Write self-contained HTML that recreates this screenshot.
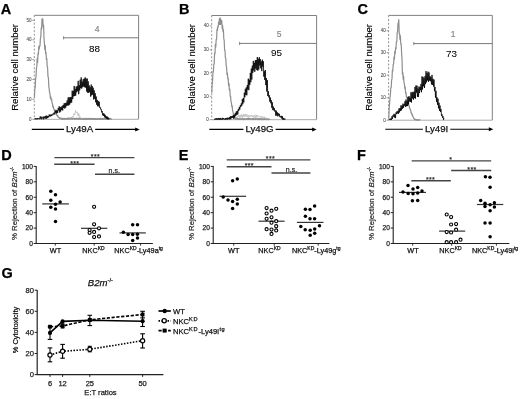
<!DOCTYPE html><html><head><meta charset="utf-8"><style>html,body{margin:0;padding:0;background:#fff;}svg{display:block;filter:blur(0.3px);}text{font-family:"Liberation Sans", sans-serif;}</style></head><body>
<svg width="520" height="399" viewBox="0 0 520 399">
<rect width="520" height="399" fill="#fff"/>
<text x="0.80" y="13.80" font-size="14.5" text-anchor="start" font-weight="bold" font-style="normal" fill="#000" stroke="#000" stroke-width="0.25" >A</text>
<text x="0" y="0" font-size="9.6" text-anchor="middle" fill="#000" stroke="#000" stroke-width="0.15" transform="translate(17.6,67.4) rotate(-90)">Relative cell number</text>
<line x1="34.30" y1="15.30" x2="138.60" y2="15.30" stroke="#808080" stroke-width="1" />
<line x1="138.60" y1="15.30" x2="138.60" y2="119.30" stroke="#808080" stroke-width="1" />
<line x1="34.30" y1="119.30" x2="138.60" y2="119.30" stroke="#aaa" stroke-width="1" />
<line x1="34.30" y1="15.30" x2="34.30" y2="119.30" stroke="#888" stroke-width="0.9" stroke-dasharray="2,1.7"/>
<line x1="32.30" y1="20.30" x2="34.30" y2="20.30" stroke="#888" stroke-width="0.8" />
<text x="31.40" y="21.90" font-size="4.5" text-anchor="end" font-weight="normal" font-style="normal" fill="#555" stroke="#555" stroke-width="0.1" >50</text>
<line x1="32.30" y1="39.80" x2="34.30" y2="39.80" stroke="#888" stroke-width="0.8" />
<text x="31.40" y="41.40" font-size="4.5" text-anchor="end" font-weight="normal" font-style="normal" fill="#555" stroke="#555" stroke-width="0.1" >40</text>
<line x1="32.30" y1="59.60" x2="34.30" y2="59.60" stroke="#888" stroke-width="0.8" />
<text x="31.40" y="61.20" font-size="4.5" text-anchor="end" font-weight="normal" font-style="normal" fill="#555" stroke="#555" stroke-width="0.1" >30</text>
<line x1="32.30" y1="79.50" x2="34.30" y2="79.50" stroke="#888" stroke-width="0.8" />
<text x="31.40" y="81.10" font-size="4.5" text-anchor="end" font-weight="normal" font-style="normal" fill="#555" stroke="#555" stroke-width="0.1" >20</text>
<line x1="32.30" y1="99.30" x2="34.30" y2="99.30" stroke="#888" stroke-width="0.8" />
<text x="31.40" y="100.90" font-size="4.5" text-anchor="end" font-weight="normal" font-style="normal" fill="#555" stroke="#555" stroke-width="0.1" >10</text>
<line x1="32.30" y1="119.30" x2="34.30" y2="119.30" stroke="#888" stroke-width="0.8" />
<text x="31.40" y="120.90" font-size="4.5" text-anchor="end" font-weight="normal" font-style="normal" fill="#555" stroke="#555" stroke-width="0.1" >0</text>
<polyline points="34.40,97.23 34.80,89.20 35.20,87.72 35.60,78.92 36.00,76.88 36.40,68.34 36.80,66.64 37.20,58.18 37.60,62.68 38.00,53.44 38.40,54.59 38.80,46.41 39.20,49.06 39.60,45.53 40.00,45.94 40.40,38.23 40.80,37.38 41.20,28.05 41.60,29.30 42.00,18.88 42.40,21.60 42.80,18.89 43.20,27.46 43.60,25.07 44.00,37.75 44.40,43.04 44.80,49.44 45.20,45.62 45.60,53.38 46.00,52.54 46.40,59.45 46.80,58.66 47.20,66.52 47.60,67.77 48.00,76.98 48.40,77.49 48.80,86.17 49.20,89.29 49.60,92.81 50.00,93.36 50.40,98.08 50.80,96.77 51.20,99.90 51.60,99.04 52.00,102.42 52.40,103.46 52.80,106.86 53.20,106.09 53.60,108.69 54.00,108.83 54.40,110.72 54.80,109.89 55.20,112.41 55.60,112.13 56.00,114.07 56.40,113.58 56.80,115.33 57.20,115.11 57.60,116.72 58.00,116.07 58.40,117.30 58.80,117.28 59.20,118.01 59.60,117.55 60.00,118.31 60.40,118.13 60.80,118.74 61.20,118.05 61.60,119.05 62.00,118.53 62.40,119.13 62.80,118.47 63.20,119.04 63.60,118.41 64.00,119.22 64.40,118.27 64.80,118.94 65.20,118.61 65.60,119.10 66.00,118.59 66.40,118.99 66.80,118.40 67.20,118.75 67.60,118.19 68.00,119.06 68.40,118.14 68.80,118.87 69.20,118.09 69.60,118.90 70.00,118.11 70.40,119.00 70.80,118.23 71.20,118.74 71.60,118.08 72.00,119.06 72.40,118.19 72.80,118.95 73.20,118.53 73.60,118.74 74.00,118.34 74.40,119.10 74.80,118.30 75.20,119.04 75.60,118.46 76.00,118.90 76.40,118.22 76.80,119.04 77.20,118.49 77.60,118.93 78.00,118.30 78.40,119.26 78.80,118.41 79.20,118.93 79.60,118.32 80.00,119.22 80.40,118.58 80.80,119.12 81.20,118.62 81.60,119.20 82.00,118.58 82.40,119.30 82.80,118.65 83.20,119.30 83.60,118.42 84.00,119.08 84.40,118.77 84.80,119.30 85.20,118.39 85.60,119.11 86.00,118.48 86.40,119.25 86.80,118.42 87.20,119.29 87.60,118.57 88.00,118.96 88.40,118.48 88.80,119.12 89.20,118.49 89.60,119.28 90.00,118.63 90.40,119.30 90.80,118.42 91.20,119.07 91.60,118.55 92.00,119.20 92.40,118.46 92.80,119.30 93.20,118.56 93.60,119.30 94.00,118.57 94.40,119.15 94.80,118.45 95.20,119.30 95.60,118.73 96.00,119.30 96.40,118.86 96.80,119.30 97.20,118.48 97.60,119.30 98.00,118.54 98.40,119.24 98.80,118.84 99.20,119.30 99.60,118.54 100.00,119.30 100.40,118.20 100.80,119.20 101.20,118.78 101.60,119.30 102.00,118.55 102.40,119.25 102.80,118.55 103.20,119.20 103.60,118.51 104.00,119.30 104.40,118.68 104.80,119.30 105.20,118.51 105.60,119.29 106.00,118.66 106.40,119.30 106.80,118.67 107.20,119.30 107.60,118.79 108.00,119.15 108.40,118.56 108.80,119.30 109.20,118.83 109.60,119.30 110.00,118.30 110.40,119.18 110.80,118.60 111.20,119.26 111.60,118.87" fill="none" stroke="#8e8e8e" stroke-width="1.2" stroke-linejoin="round" opacity="1"/>
<polyline points="70.00,119.29 70.80,117.74 71.60,118.01 72.40,116.23 73.20,117.27 74.00,113.46 74.80,114.92 75.60,110.46 76.40,112.90 77.20,112.01 78.00,116.08 78.80,113.46 79.60,117.84 80.40,116.78 81.20,118.88 82.00,118.53" fill="none" stroke="#aaa" stroke-width="0.6" stroke-linejoin="round" opacity="1"/>
<polyline points="34.70,119.30 35.20,118.17 35.70,119.28 36.20,118.50 36.70,119.30 37.20,118.03 37.70,119.28 38.20,118.37 38.70,119.00 39.20,118.33 39.70,119.24 40.20,116.38 40.70,118.64 41.20,116.71 41.70,119.30 42.20,117.56 42.70,118.27 43.20,116.53 43.70,119.30 44.20,116.90 44.70,118.22 45.20,115.99 45.70,118.52 46.20,115.56 46.70,118.63 47.20,115.86 47.70,118.02 48.20,115.96 48.70,117.26 49.20,114.52 49.70,116.33 50.20,114.76 50.70,116.45 51.20,114.44 51.70,115.83 52.20,114.40 52.70,115.21 53.20,113.36 53.70,114.40 54.20,112.54 54.70,114.41 55.20,110.68 55.70,112.67 56.20,109.91 56.70,113.43 57.20,110.36 57.70,112.96 58.20,108.16 58.70,110.36 59.20,106.30 59.70,112.49 60.20,107.29 60.70,111.54 61.20,106.81 61.70,109.93 62.20,105.89 62.70,110.48 63.20,104.95 63.70,107.89 64.20,103.30 64.70,108.54 65.20,103.08 65.70,107.67 66.20,102.70 66.70,105.88 67.20,100.33 67.70,105.50 68.20,97.39 68.70,105.42 69.20,97.44 69.70,104.57 70.20,96.96 70.70,103.08 71.20,97.21 71.70,102.44 72.20,90.68 72.70,99.14 73.20,90.96 73.70,96.44 74.20,85.94 74.70,95.93 75.20,88.84 75.70,95.64 76.20,86.60 76.70,92.29 77.20,86.10 77.70,91.19 78.20,80.86 78.70,94.16 79.20,85.10 79.70,90.35 80.20,79.71 80.70,88.25 81.20,77.46 81.70,88.55 82.20,81.71 82.70,87.13 83.20,79.31 83.70,86.49 84.20,78.61 84.70,87.29 85.20,77.42 85.70,87.63 86.20,78.70 86.70,91.53 87.20,78.56 87.70,92.77 88.20,81.34 88.70,92.79 89.20,85.48 89.70,92.16 90.20,87.18 90.70,96.62 91.20,84.55 91.70,95.28 92.20,86.07 92.70,94.64 93.20,87.74 93.70,99.43 94.20,90.37 94.70,98.79 95.20,93.31 95.70,102.25 96.20,96.53 96.70,104.74 97.20,99.87 97.70,106.32 98.20,100.94 98.70,106.25 99.20,101.72 99.70,107.88 100.20,107.18 100.70,109.31 101.20,109.01 101.70,112.36 102.20,111.14 102.70,115.29 103.20,113.20 103.70,115.94 104.20,113.75 104.70,117.42 105.20,114.84 105.70,118.04 106.20,116.23 106.70,118.87 107.20,116.55 107.70,119.30 108.20,117.43 108.70,119.30 109.20,118.28" fill="none" stroke="#000" stroke-width="0.8" stroke-linejoin="round" opacity="1"/>
<line x1="63.60" y1="37.80" x2="138.60" y2="37.80" stroke="#7a7a7a" stroke-width="1" />
<line x1="63.60" y1="36.20" x2="63.60" y2="39.40" stroke="#7a7a7a" stroke-width="0.9" />
<text x="97.00" y="32.20" font-size="8.5" text-anchor="middle" font-weight="normal" font-style="normal" fill="#8a8a8a" stroke="#8a8a8a" stroke-width="0.2" >4</text>
<text x="94.40" y="52.20" font-size="9.9" text-anchor="middle" font-weight="normal" font-style="normal" fill="#000" stroke="#000" stroke-width="0.05" >88</text>
<line x1="31.80" y1="129.40" x2="136.70" y2="129.40" stroke="#000" stroke-width="1.1" />
<polygon points="135.2,127.4 139.7,129.4 135.2,131.4" fill="#000"/>
<rect x="64.03" y="124.4" width="31.14" height="10" fill="#fff"/>
<text x="79.60" y="131.90" font-size="9.7" text-anchor="middle" font-weight="normal" font-style="normal" fill="#111" stroke="#111" stroke-width="0.25" >Ly49A</text>
<text x="179.00" y="13.80" font-size="14.5" text-anchor="start" font-weight="bold" font-style="normal" fill="#000" stroke="#000" stroke-width="0.25" >B</text>
<text x="0" y="0" font-size="9.6" text-anchor="middle" fill="#000" stroke="#000" stroke-width="0.15" transform="translate(195.1,67.4) rotate(-90)">Relative cell number</text>
<line x1="211.70" y1="15.50" x2="316.60" y2="15.50" stroke="#808080" stroke-width="1" />
<line x1="316.60" y1="15.50" x2="316.60" y2="119.70" stroke="#808080" stroke-width="1" />
<line x1="211.70" y1="119.70" x2="316.60" y2="119.70" stroke="#aaa" stroke-width="1" />
<line x1="211.70" y1="15.50" x2="211.70" y2="119.70" stroke="#888" stroke-width="0.9" stroke-dasharray="2,1.7"/>
<line x1="209.70" y1="25.80" x2="211.70" y2="25.80" stroke="#888" stroke-width="0.8" />
<text x="208.80" y="27.40" font-size="4.5" text-anchor="end" font-weight="normal" font-style="normal" fill="#555" stroke="#555" stroke-width="0.1" >40</text>
<line x1="209.70" y1="49.80" x2="211.70" y2="49.80" stroke="#888" stroke-width="0.8" />
<text x="208.80" y="51.40" font-size="4.5" text-anchor="end" font-weight="normal" font-style="normal" fill="#555" stroke="#555" stroke-width="0.1" >30</text>
<line x1="209.70" y1="72.90" x2="211.70" y2="72.90" stroke="#888" stroke-width="0.8" />
<text x="208.80" y="74.50" font-size="4.5" text-anchor="end" font-weight="normal" font-style="normal" fill="#555" stroke="#555" stroke-width="0.1" >20</text>
<line x1="209.70" y1="96.30" x2="211.70" y2="96.30" stroke="#888" stroke-width="0.8" />
<text x="208.80" y="97.90" font-size="4.5" text-anchor="end" font-weight="normal" font-style="normal" fill="#555" stroke="#555" stroke-width="0.1" >10</text>
<line x1="209.70" y1="119.70" x2="211.70" y2="119.70" stroke="#888" stroke-width="0.8" />
<text x="208.80" y="121.30" font-size="4.5" text-anchor="end" font-weight="normal" font-style="normal" fill="#555" stroke="#555" stroke-width="0.1" >0</text>
<polyline points="211.80,92.76 212.20,84.13 212.60,80.20 213.00,71.51 213.40,71.81 213.80,64.16 214.20,63.89 214.60,52.96 215.00,53.82 215.40,44.05 215.80,46.91 216.20,39.31 216.60,39.43 217.00,29.21 217.40,30.72 217.80,26.25 218.20,27.24 218.60,21.98 219.00,24.38 219.40,18.58 219.80,24.31 220.20,17.93 220.60,24.44 221.00,19.65 221.40,23.72 221.80,20.79 222.20,28.63 222.60,25.28 223.00,31.61 223.40,29.48 223.80,38.65 224.20,40.47 224.60,50.15 225.00,50.31 225.40,58.02 225.80,58.43 226.20,65.93 226.60,67.41 227.00,74.80 227.40,73.04 227.80,78.80 228.20,78.03 228.60,85.70 229.00,83.40 229.40,90.13 229.80,88.96 230.20,96.32 230.60,96.10 231.00,101.77 231.40,102.48 231.80,106.63 232.20,105.70 232.60,110.74 233.00,111.91 233.40,114.45 233.80,115.03 234.20,117.47 234.60,117.40 235.00,118.53 235.40,118.35 235.80,119.18 236.20,118.30 236.60,119.16 237.00,118.39 237.40,119.27 237.80,118.20 238.20,119.38 238.60,118.89 239.00,119.39 239.40,118.63 239.80,119.31 240.20,118.51 240.60,119.24 241.00,118.95 241.40,119.19 241.80,118.63 242.20,119.39 242.60,118.70 243.00,119.21 243.40,118.75 243.80,119.61 244.20,118.60 244.60,119.48 245.00,118.95 245.40,119.12 245.80,118.83 246.20,119.22 246.60,118.60 247.00,119.28 247.40,118.48 247.80,119.33 248.20,118.14 248.60,119.37 249.00,118.55 249.40,119.24 249.80,118.65 250.20,119.11 250.60,118.47 251.00,119.26 251.40,118.79 251.80,119.13 252.20,118.57 252.60,119.65 253.00,118.63 253.40,119.38 253.80,118.75 254.20,119.14 254.60,118.84 255.00,119.53 255.40,118.74 255.80,119.35 256.20,118.67 256.60,119.20 257.00,118.75 257.40,119.58 257.80,118.70 258.20,119.50 258.60,118.68 259.00,119.31 259.40,118.82 259.80,119.58 260.20,118.26 260.60,119.37 261.00,118.84 261.40,119.70 261.80,118.89 262.20,119.57 262.60,119.00 263.00,119.56 263.40,118.89 263.80,119.56 264.20,118.64 264.60,119.38 265.00,119.00 265.40,119.35 265.80,118.94 266.20,119.69 266.60,118.88 267.00,119.41 267.40,118.91 267.80,119.37 268.20,119.10 268.60,119.70 269.00,119.12 269.40,119.29 269.80,118.78" fill="none" stroke="#8e8e8e" stroke-width="1.2" stroke-linejoin="round" opacity="1"/>
<polyline points="233.00,119.70 233.80,117.80 234.60,119.31 235.40,117.47 236.20,118.16 237.00,116.73 237.80,117.25 238.60,115.33 239.40,117.53 240.20,114.79 241.00,117.63 241.80,114.45 242.60,117.69 243.40,113.97 244.20,116.94 245.00,113.99 245.80,116.73 246.60,114.11 247.40,117.09 248.20,115.06 249.00,117.52 249.80,115.15 250.60,116.37 251.40,114.90 252.20,117.07 253.00,115.48 253.80,117.78 254.60,115.13 255.40,117.81 256.20,114.78 257.00,117.54 257.80,115.27 258.60,117.12 259.40,116.42 260.20,117.12 261.00,115.90 261.80,118.51 262.60,116.56 263.40,118.72 264.20,116.60 265.00,118.65 265.80,117.58 266.60,119.45 267.40,118.16 268.20,119.49 269.00,118.60 269.80,119.57" fill="none" stroke="#aaa" stroke-width="0.6" stroke-linejoin="round" opacity="1"/>
<polyline points="213.80,119.70 214.30,119.30 214.80,119.70 215.30,118.47 215.80,119.70 216.30,118.13 216.80,119.70 217.30,118.37 217.80,119.70 218.30,118.13 218.80,119.70 219.30,118.11 219.80,119.70 220.30,117.94 220.80,119.70 221.30,118.67 221.80,119.70 222.30,117.82 222.80,119.54 223.30,118.02 223.80,119.30 224.30,118.77 224.80,119.70 225.30,118.10 225.80,119.70 226.30,118.01 226.80,119.36 227.30,117.64 227.80,119.69 228.30,118.03 228.80,119.03 229.30,117.22 229.80,119.52 230.30,116.31 230.80,119.17 231.30,116.22 231.80,118.03 232.30,115.98 232.80,117.98 233.30,115.07 233.80,118.64 234.30,114.65 234.80,117.42 235.30,112.93 235.80,115.95 236.30,111.49 236.80,114.89 237.30,110.78 237.80,114.42 238.30,109.10 238.80,110.77 239.30,106.97 239.80,109.56 240.30,105.30 240.80,107.09 241.30,103.36 241.80,105.95 242.30,99.14 242.80,104.19 243.30,98.05 243.80,102.38 244.30,92.79 244.80,97.30 245.30,88.84 245.80,95.05 246.30,87.39 246.80,95.31 247.30,84.99 247.80,89.60 248.30,78.65 248.80,90.15 249.30,79.79 249.80,84.93 250.30,72.89 250.80,82.28 251.30,68.53 251.80,79.53 252.30,65.71 252.80,72.85 253.30,60.90 253.80,70.45 254.30,62.84 254.80,71.77 255.30,60.15 255.80,68.54 256.30,60.05 256.80,70.04 257.30,57.03 257.80,70.67 258.30,58.81 258.80,69.43 259.30,57.22 259.80,65.48 260.30,59.16 260.80,68.31 261.30,61.37 261.80,71.12 262.30,59.65 262.80,66.63 263.30,61.24 263.80,76.61 264.30,71.21 264.80,80.04 265.30,70.01 265.80,85.06 266.30,78.03 266.80,91.47 267.30,80.10 267.80,96.02 268.30,91.18 268.80,97.32 269.30,95.25 269.80,101.58 270.30,97.48 270.80,103.26 271.30,100.26 271.80,107.79 272.30,102.32 272.80,110.05 273.30,106.55 273.80,110.43 274.30,108.16 274.80,111.46 275.30,110.30 275.80,115.71 276.30,110.71 276.80,115.60 277.30,112.34 277.80,116.37 278.30,113.28 278.80,115.53 279.30,113.80 279.80,117.08 280.30,116.12 280.80,117.48 281.30,115.82 281.80,118.68 282.30,116.10 282.80,119.70 283.30,117.93 283.80,119.70 284.30,118.46 284.80,119.70 285.30,118.73" fill="none" stroke="#000" stroke-width="0.8" stroke-linejoin="round" opacity="1"/>
<line x1="239.60" y1="43.40" x2="316.60" y2="43.40" stroke="#7a7a7a" stroke-width="1" />
<line x1="239.60" y1="41.80" x2="239.60" y2="45.00" stroke="#7a7a7a" stroke-width="0.9" />
<text x="279.20" y="36.50" font-size="8.5" text-anchor="middle" font-weight="normal" font-style="normal" fill="#8a8a8a" stroke="#8a8a8a" stroke-width="0.2" >5</text>
<text x="276.50" y="56.10" font-size="9.9" text-anchor="middle" font-weight="normal" font-style="normal" fill="#000" stroke="#000" stroke-width="0.05" >95</text>
<line x1="209.30" y1="129.40" x2="313.60" y2="129.40" stroke="#000" stroke-width="1.1" />
<polygon points="312.1,127.4 316.6,129.4 312.1,131.4" fill="#000"/>
<rect x="243.39" y="124.4" width="32.22" height="10" fill="#fff"/>
<text x="259.50" y="131.90" font-size="9.7" text-anchor="middle" font-weight="normal" font-style="normal" fill="#111" stroke="#111" stroke-width="0.25" >Ly49G</text>
<text x="357.40" y="13.80" font-size="14.5" text-anchor="start" font-weight="bold" font-style="normal" fill="#000" stroke="#000" stroke-width="0.25" >C</text>
<text x="0" y="0" font-size="9.6" text-anchor="middle" fill="#000" stroke="#000" stroke-width="0.15" transform="translate(372.1,67.4) rotate(-90)">Relative cell number</text>
<line x1="388.60" y1="15.40" x2="492.30" y2="15.40" stroke="#808080" stroke-width="1" />
<line x1="492.30" y1="15.40" x2="492.30" y2="120.20" stroke="#808080" stroke-width="1" />
<line x1="388.60" y1="120.20" x2="492.30" y2="120.20" stroke="#aaa" stroke-width="1" />
<line x1="388.60" y1="15.40" x2="388.60" y2="120.20" stroke="#888" stroke-width="0.9" stroke-dasharray="2,1.7"/>
<line x1="386.60" y1="30.80" x2="388.60" y2="30.80" stroke="#888" stroke-width="0.8" />
<text x="385.70" y="32.40" font-size="4.5" text-anchor="end" font-weight="normal" font-style="normal" fill="#555" stroke="#555" stroke-width="0.1" >40</text>
<line x1="386.60" y1="52.60" x2="388.60" y2="52.60" stroke="#888" stroke-width="0.8" />
<text x="385.70" y="54.20" font-size="4.5" text-anchor="end" font-weight="normal" font-style="normal" fill="#555" stroke="#555" stroke-width="0.1" >30</text>
<line x1="386.60" y1="75.10" x2="388.60" y2="75.10" stroke="#888" stroke-width="0.8" />
<text x="385.70" y="76.70" font-size="4.5" text-anchor="end" font-weight="normal" font-style="normal" fill="#555" stroke="#555" stroke-width="0.1" >20</text>
<line x1="386.60" y1="97.80" x2="388.60" y2="97.80" stroke="#888" stroke-width="0.8" />
<text x="385.70" y="99.40" font-size="4.5" text-anchor="end" font-weight="normal" font-style="normal" fill="#555" stroke="#555" stroke-width="0.1" >10</text>
<line x1="386.60" y1="120.20" x2="388.60" y2="120.20" stroke="#888" stroke-width="0.8" />
<text x="385.70" y="121.80" font-size="4.5" text-anchor="end" font-weight="normal" font-style="normal" fill="#555" stroke="#555" stroke-width="0.1" >0</text>
<polyline points="388.80,119.12 389.20,107.91 389.60,103.17 390.00,97.60 390.40,94.74 390.80,87.72 391.20,87.47 391.60,80.28 392.00,78.63 392.40,70.11 392.80,71.08 393.20,64.44 393.60,63.89 394.00,56.75 394.40,59.19 394.80,51.34 395.20,53.70 395.60,47.72 396.00,49.03 396.40,41.75 396.80,41.84 397.20,32.43 397.60,31.32 398.00,23.06 398.40,23.25 398.80,19.69 399.20,33.61 399.60,33.13 400.00,39.76 400.40,35.76 400.80,44.16 401.20,43.97 401.60,52.72 402.00,58.35 402.40,74.28 402.80,72.29 403.20,79.12 403.60,75.99 404.00,82.77 404.40,83.84 404.80,88.45 405.20,87.14 405.60,93.28 406.00,92.54 406.40,96.90 406.80,96.49 407.20,99.32 407.60,98.93 408.00,103.37 408.40,101.95 408.80,106.01 409.20,105.46 409.60,108.41 410.00,108.42 410.40,110.12 410.80,110.64 411.20,113.12 411.60,112.98 412.00,115.05 412.40,114.53 412.80,116.65 413.20,116.62 413.60,118.18 414.00,118.23 414.40,119.38 414.80,118.88 415.20,119.75 415.60,119.57 416.00,119.96 416.40,119.64 416.80,120.20 417.20,119.76 417.60,120.20 418.00,119.90 418.40,120.20 418.80,119.80 419.20,120.20 419.60,119.54 420.00,120.18" fill="none" stroke="#8e8e8e" stroke-width="1.2" stroke-linejoin="round" opacity="1"/>
<polyline points="389.50,120.00 390.00,118.79 390.50,120.04 391.00,118.35 391.50,119.80 392.00,116.15 392.50,118.88 393.00,115.23 393.50,116.57 394.00,113.85 394.50,117.46 395.00,114.18 395.50,118.13 396.00,112.42 396.50,113.99 397.00,111.34 397.50,113.51 398.00,110.74 398.50,113.67 399.00,108.46 399.50,112.40 400.00,108.00 400.50,110.97 401.00,105.38 401.50,110.34 402.00,105.47 402.50,108.65 403.00,103.64 403.50,107.94 404.00,104.17 404.50,105.63 405.00,101.27 405.50,106.93 406.00,99.58 406.50,106.22 407.00,100.93 407.50,106.07 408.00,97.01 408.50,104.42 409.00,96.14 409.50,101.48 410.00,97.75 410.50,101.88 411.00,92.28 411.50,102.48 412.00,92.47 412.50,98.38 413.00,91.83 413.50,99.61 414.00,91.75 414.50,98.17 415.00,86.92 415.50,98.61 416.00,85.48 416.50,92.52 417.00,85.68 417.50,96.78 418.00,88.49 418.50,96.98 419.00,86.46 419.50,93.02 420.00,87.01 420.50,90.16 421.00,83.95 421.50,92.24 422.00,76.46 422.50,89.51 423.00,76.87 423.50,86.30 424.00,78.28 424.50,87.99 425.00,76.19 425.50,84.14 426.00,71.10 426.50,82.33 427.00,73.23 427.50,80.44 428.00,71.61 428.50,81.87 429.00,72.40 429.50,80.54 430.00,76.09 430.50,81.20 431.00,77.20 431.50,84.41 432.00,74.90 432.50,84.84 433.00,78.78 433.50,86.49 434.00,79.67 434.50,91.14 435.00,86.94 435.50,97.63 436.00,90.86 436.50,101.69 437.00,97.23 437.50,104.79 438.00,98.72 438.50,108.29 439.00,102.74 439.50,110.85 440.00,105.50 440.50,111.98 441.00,109.10 441.50,115.83 442.00,114.28 442.50,117.76 443.00,116.13 443.50,119.80 444.00,117.94" fill="none" stroke="#000" stroke-width="0.8" stroke-linejoin="round" opacity="1"/>
<line x1="413.80" y1="43.60" x2="492.30" y2="43.60" stroke="#7a7a7a" stroke-width="1" />
<line x1="413.80" y1="42.00" x2="413.80" y2="45.20" stroke="#7a7a7a" stroke-width="0.9" />
<text x="453.20" y="37.00" font-size="8.5" text-anchor="middle" font-weight="normal" font-style="normal" fill="#8a8a8a" stroke="#8a8a8a" stroke-width="0.2" >1</text>
<text x="451.40" y="56.60" font-size="9.9" text-anchor="middle" font-weight="normal" font-style="normal" fill="#000" stroke="#000" stroke-width="0.05" >73</text>
<line x1="385.30" y1="129.30" x2="490.30" y2="129.30" stroke="#000" stroke-width="1.1" />
<polygon points="488.8,127.30000000000001 493.3,129.3 488.8,131.3" fill="#000"/>
<rect x="422.92" y="124.30000000000001" width="27.37" height="10" fill="#fff"/>
<text x="436.60" y="131.80" font-size="9.7" text-anchor="middle" font-weight="normal" font-style="normal" fill="#111" stroke="#111" stroke-width="0.25" >Ly49I</text>
<text x="1.20" y="159.50" font-size="14.5" text-anchor="start" font-weight="bold" font-style="normal" fill="#000" stroke="#000" stroke-width="0.25" >D</text>
<text x="0" y="0" font-size="7.8" text-anchor="middle" fill="#222" stroke="#222" stroke-width="0.2" transform="translate(16.9,203.4) rotate(-90)">% Rejection of <tspan font-style="italic">B2m</tspan><tspan font-size="5" dy="-2.8">-/-</tspan></text>
<line x1="36.20" y1="165.90" x2="36.20" y2="244.00" stroke="#222" stroke-width="1.1" />
<line x1="35.70" y1="243.50" x2="152.90" y2="243.50" stroke="#222" stroke-width="1.1" />
<line x1="33.70" y1="166.40" x2="36.20" y2="166.40" stroke="#222" stroke-width="1" />
<text x="32.90" y="168.70" font-size="6.6" text-anchor="end" font-weight="normal" font-style="normal" fill="#222" stroke="#222" stroke-width="0.25" >100</text>
<line x1="33.70" y1="181.82" x2="36.20" y2="181.82" stroke="#222" stroke-width="1" />
<text x="32.90" y="184.12" font-size="6.6" text-anchor="end" font-weight="normal" font-style="normal" fill="#222" stroke="#222" stroke-width="0.25" >80</text>
<line x1="33.70" y1="197.24" x2="36.20" y2="197.24" stroke="#222" stroke-width="1" />
<text x="32.90" y="199.54" font-size="6.6" text-anchor="end" font-weight="normal" font-style="normal" fill="#222" stroke="#222" stroke-width="0.25" >60</text>
<line x1="33.70" y1="212.66" x2="36.20" y2="212.66" stroke="#222" stroke-width="1" />
<text x="32.90" y="214.96" font-size="6.6" text-anchor="end" font-weight="normal" font-style="normal" fill="#222" stroke="#222" stroke-width="0.25" >40</text>
<line x1="33.70" y1="228.08" x2="36.20" y2="228.08" stroke="#222" stroke-width="1" />
<text x="32.90" y="230.38" font-size="6.6" text-anchor="end" font-weight="normal" font-style="normal" fill="#222" stroke="#222" stroke-width="0.25" >20</text>
<line x1="33.70" y1="243.50" x2="36.20" y2="243.50" stroke="#222" stroke-width="1" />
<text x="32.90" y="245.80" font-size="6.6" text-anchor="end" font-weight="normal" font-style="normal" fill="#222" stroke="#222" stroke-width="0.25" >0</text>
<line x1="55.30" y1="243.50" x2="55.30" y2="245.70" stroke="#222" stroke-width="0.9" />
<line x1="94.20" y1="243.50" x2="94.20" y2="245.70" stroke="#222" stroke-width="0.9" />
<line x1="140.60" y1="243.50" x2="140.60" y2="245.70" stroke="#222" stroke-width="0.9" />
<text x="55.50" y="252.6" font-size="7.3" text-anchor="middle" fill="#111" stroke="#111" stroke-width="0.25">WT</text>
<text x="93.50" y="252.6" font-size="7.3" text-anchor="middle" fill="#111" stroke="#111" stroke-width="0.25">NKC<tspan font-size="5" dy="-2.8">KD</tspan></text>
<text x="138.60" y="252.6" font-size="7.3" text-anchor="middle" fill="#111" stroke="#111" stroke-width="0.25">NKC<tspan font-size="5" dy="-2.8">KD</tspan><tspan dy="2.8">-Ly49a</tspan><tspan font-size="5" dy="-2.8">tg</tspan></text>
<line x1="54.40" y1="157.60" x2="134.40" y2="157.60" stroke="#444" stroke-width="1.4" />
<text x="95.40" y="158.60" font-size="7" text-anchor="middle" font-weight="normal" font-style="normal" fill="#222" stroke="#222" stroke-width="0.15" letter-spacing="0.3">***</text>
<line x1="54.20" y1="164.30" x2="94.60" y2="164.30" stroke="#444" stroke-width="1.4" />
<text x="74.80" y="165.50" font-size="7" text-anchor="middle" font-weight="normal" font-style="normal" fill="#222" stroke="#222" stroke-width="0.15" letter-spacing="0.3">***</text>
<line x1="95.00" y1="174.30" x2="134.40" y2="174.30" stroke="#444" stroke-width="1.4" />
<text x="114.20" y="172.60" font-size="7" text-anchor="middle" font-weight="normal" font-style="normal" fill="#333" stroke="#333" stroke-width="0.25" >n.s.</text>
<line x1="42.20" y1="203.90" x2="68.90" y2="203.90" stroke="#333" stroke-width="1.2" />
<circle cx="50.80" cy="191.20" r="1.75" fill="#000"/>
<circle cx="55.50" cy="194.70" r="1.75" fill="#000"/>
<circle cx="50.80" cy="200.20" r="1.75" fill="#000"/>
<circle cx="60.10" cy="202.00" r="1.75" fill="#000"/>
<circle cx="55.50" cy="204.30" r="1.75" fill="#000"/>
<circle cx="50.80" cy="207.30" r="1.75" fill="#000"/>
<circle cx="55.50" cy="209.10" r="1.75" fill="#000"/>
<circle cx="55.50" cy="221.60" r="1.75" fill="#000"/>
<line x1="81.00" y1="228.30" x2="107.30" y2="228.30" stroke="#333" stroke-width="1.2" />
<circle cx="94.10" cy="206.80" r="1.55" fill="#fff" stroke="#000" stroke-width="1.1"/>
<circle cx="94.10" cy="224.30" r="1.55" fill="#fff" stroke="#000" stroke-width="1.1"/>
<circle cx="99.00" cy="228.30" r="1.55" fill="#fff" stroke="#000" stroke-width="1.1"/>
<circle cx="89.60" cy="230.10" r="1.55" fill="#fff" stroke="#000" stroke-width="1.1"/>
<circle cx="89.60" cy="232.80" r="1.55" fill="#fff" stroke="#000" stroke-width="1.1"/>
<circle cx="94.10" cy="231.90" r="1.55" fill="#fff" stroke="#000" stroke-width="1.1"/>
<circle cx="94.10" cy="237.10" r="1.55" fill="#fff" stroke="#000" stroke-width="1.1"/>
<circle cx="99.00" cy="236.40" r="1.55" fill="#fff" stroke="#000" stroke-width="1.1"/>
<line x1="119.50" y1="232.90" x2="145.80" y2="232.90" stroke="#333" stroke-width="1.2" />
<circle cx="132.70" cy="224.80" r="1.75" fill="#000"/>
<circle cx="137.50" cy="224.80" r="1.75" fill="#000"/>
<circle cx="123.40" cy="232.30" r="1.75" fill="#000"/>
<circle cx="128.10" cy="234.40" r="1.75" fill="#000"/>
<circle cx="132.70" cy="234.40" r="1.75" fill="#000"/>
<circle cx="137.40" cy="234.20" r="1.75" fill="#000"/>
<circle cx="137.50" cy="237.90" r="1.75" fill="#000"/>
<circle cx="132.70" cy="240.40" r="1.75" fill="#000"/>
<text x="178.80" y="159.80" font-size="14.5" text-anchor="start" font-weight="bold" font-style="normal" fill="#000" stroke="#000" stroke-width="0.25" >E</text>
<text x="0" y="0" font-size="7.8" text-anchor="middle" fill="#222" stroke="#222" stroke-width="0.2" transform="translate(193.9,203.4) rotate(-90)">% Rejection of <tspan font-style="italic">B2m</tspan><tspan font-size="5" dy="-2.8">-/-</tspan></text>
<line x1="213.20" y1="165.90" x2="213.20" y2="244.00" stroke="#222" stroke-width="1.1" />
<line x1="212.70" y1="243.50" x2="329.40" y2="243.50" stroke="#222" stroke-width="1.1" />
<line x1="210.70" y1="166.40" x2="213.20" y2="166.40" stroke="#222" stroke-width="1" />
<text x="209.90" y="168.70" font-size="6.6" text-anchor="end" font-weight="normal" font-style="normal" fill="#222" stroke="#222" stroke-width="0.25" >100</text>
<line x1="210.70" y1="181.82" x2="213.20" y2="181.82" stroke="#222" stroke-width="1" />
<text x="209.90" y="184.12" font-size="6.6" text-anchor="end" font-weight="normal" font-style="normal" fill="#222" stroke="#222" stroke-width="0.25" >80</text>
<line x1="210.70" y1="197.24" x2="213.20" y2="197.24" stroke="#222" stroke-width="1" />
<text x="209.90" y="199.54" font-size="6.6" text-anchor="end" font-weight="normal" font-style="normal" fill="#222" stroke="#222" stroke-width="0.25" >60</text>
<line x1="210.70" y1="212.66" x2="213.20" y2="212.66" stroke="#222" stroke-width="1" />
<text x="209.90" y="214.96" font-size="6.6" text-anchor="end" font-weight="normal" font-style="normal" fill="#222" stroke="#222" stroke-width="0.25" >40</text>
<line x1="210.70" y1="228.08" x2="213.20" y2="228.08" stroke="#222" stroke-width="1" />
<text x="209.90" y="230.38" font-size="6.6" text-anchor="end" font-weight="normal" font-style="normal" fill="#222" stroke="#222" stroke-width="0.25" >20</text>
<line x1="210.70" y1="243.50" x2="213.20" y2="243.50" stroke="#222" stroke-width="1" />
<text x="209.90" y="245.80" font-size="6.6" text-anchor="end" font-weight="normal" font-style="normal" fill="#222" stroke="#222" stroke-width="0.25" >0</text>
<line x1="233.75" y1="243.50" x2="233.75" y2="245.70" stroke="#222" stroke-width="0.9" />
<line x1="274.25" y1="243.50" x2="274.25" y2="245.70" stroke="#222" stroke-width="0.9" />
<line x1="318.20" y1="243.50" x2="318.20" y2="245.70" stroke="#222" stroke-width="0.9" />
<text x="233.75" y="252.6" font-size="7.3" text-anchor="middle" fill="#111" stroke="#111" stroke-width="0.25">WT</text>
<text x="269.50" y="252.6" font-size="7.3" text-anchor="middle" fill="#111" stroke="#111" stroke-width="0.25">NKC<tspan font-size="5" dy="-2.8">KD</tspan></text>
<text x="316.20" y="252.6" font-size="7.3" text-anchor="middle" fill="#111" stroke="#111" stroke-width="0.25">NKC<tspan font-size="5" dy="-2.8">KD</tspan><tspan dy="2.8">-Ly49g</tspan><tspan font-size="5" dy="-2.8">tg</tspan></text>
<line x1="226.70" y1="159.90" x2="310.40" y2="159.90" stroke="#444" stroke-width="1.4" />
<text x="270.40" y="160.70" font-size="7" text-anchor="middle" font-weight="normal" font-style="normal" fill="#222" stroke="#222" stroke-width="0.15" letter-spacing="0.3">***</text>
<line x1="226.70" y1="166.70" x2="271.50" y2="166.70" stroke="#444" stroke-width="1.4" />
<text x="249.20" y="167.80" font-size="7" text-anchor="middle" font-weight="normal" font-style="normal" fill="#222" stroke="#222" stroke-width="0.15" letter-spacing="0.3">***</text>
<line x1="271.50" y1="173.00" x2="310.40" y2="173.00" stroke="#444" stroke-width="1.4" />
<text x="291.50" y="172.20" font-size="7" text-anchor="middle" font-weight="normal" font-style="normal" fill="#333" stroke="#333" stroke-width="0.25" >n.s.</text>
<line x1="219.50" y1="196.30" x2="246.10" y2="196.30" stroke="#333" stroke-width="1.2" />
<circle cx="232.60" cy="180.80" r="1.75" fill="#000"/>
<circle cx="237.30" cy="179.00" r="1.75" fill="#000"/>
<circle cx="223.20" cy="197.10" r="1.75" fill="#000"/>
<circle cx="228.00" cy="199.90" r="1.75" fill="#000"/>
<circle cx="232.60" cy="201.60" r="1.75" fill="#000"/>
<circle cx="237.30" cy="199.30" r="1.75" fill="#000"/>
<circle cx="237.30" cy="204.10" r="1.75" fill="#000"/>
<circle cx="232.60" cy="208.60" r="1.75" fill="#000"/>
<line x1="258.50" y1="221.20" x2="284.60" y2="221.20" stroke="#333" stroke-width="1.2" />
<circle cx="266.60" cy="208.10" r="1.55" fill="#fff" stroke="#000" stroke-width="1.1"/>
<circle cx="271.50" cy="210.70" r="1.55" fill="#fff" stroke="#000" stroke-width="1.1"/>
<circle cx="276.20" cy="208.80" r="1.55" fill="#fff" stroke="#000" stroke-width="1.1"/>
<circle cx="266.60" cy="213.50" r="1.55" fill="#fff" stroke="#000" stroke-width="1.1"/>
<circle cx="271.50" cy="217.30" r="1.55" fill="#fff" stroke="#000" stroke-width="1.1"/>
<circle cx="266.60" cy="218.80" r="1.55" fill="#fff" stroke="#000" stroke-width="1.1"/>
<circle cx="271.50" cy="222.70" r="1.55" fill="#fff" stroke="#000" stroke-width="1.1"/>
<circle cx="276.20" cy="221.20" r="1.55" fill="#fff" stroke="#000" stroke-width="1.1"/>
<circle cx="276.20" cy="226.20" r="1.55" fill="#fff" stroke="#000" stroke-width="1.1"/>
<circle cx="266.60" cy="229.20" r="1.55" fill="#fff" stroke="#000" stroke-width="1.1"/>
<circle cx="271.50" cy="229.60" r="1.55" fill="#fff" stroke="#000" stroke-width="1.1"/>
<circle cx="276.20" cy="230.40" r="1.55" fill="#fff" stroke="#000" stroke-width="1.1"/>
<circle cx="271.50" cy="233.90" r="1.55" fill="#fff" stroke="#000" stroke-width="1.1"/>
<line x1="296.90" y1="222.40" x2="323.50" y2="222.40" stroke="#333" stroke-width="1.2" />
<circle cx="305.40" cy="209.20" r="1.75" fill="#000"/>
<circle cx="310.00" cy="209.60" r="1.75" fill="#000"/>
<circle cx="314.60" cy="206.10" r="1.75" fill="#000"/>
<circle cx="305.40" cy="216.20" r="1.75" fill="#000"/>
<circle cx="310.00" cy="218.80" r="1.75" fill="#000"/>
<circle cx="314.60" cy="218.80" r="1.75" fill="#000"/>
<circle cx="300.80" cy="226.50" r="1.75" fill="#000"/>
<circle cx="319.50" cy="225.80" r="1.75" fill="#000"/>
<circle cx="305.20" cy="229.80" r="1.75" fill="#000"/>
<circle cx="310.20" cy="230.20" r="1.75" fill="#000"/>
<circle cx="314.70" cy="228.90" r="1.75" fill="#000"/>
<circle cx="314.70" cy="233.20" r="1.75" fill="#000"/>
<circle cx="310.20" cy="235.20" r="1.75" fill="#000"/>
<text x="357.00" y="159.80" font-size="14.5" text-anchor="start" font-weight="bold" font-style="normal" fill="#000" stroke="#000" stroke-width="0.25" >F</text>
<text x="0" y="0" font-size="7.8" text-anchor="middle" fill="#222" stroke="#222" stroke-width="0.2" transform="translate(373.9,203.4) rotate(-90)">% Rejection of <tspan font-style="italic">B2m</tspan><tspan font-size="5" dy="-2.8">-/-</tspan></text>
<line x1="393.20" y1="165.90" x2="393.20" y2="244.00" stroke="#222" stroke-width="1.1" />
<line x1="392.70" y1="243.50" x2="509.40" y2="243.50" stroke="#222" stroke-width="1.1" />
<line x1="390.70" y1="166.40" x2="393.20" y2="166.40" stroke="#222" stroke-width="1" />
<text x="389.90" y="168.70" font-size="6.6" text-anchor="end" font-weight="normal" font-style="normal" fill="#222" stroke="#222" stroke-width="0.25" >100</text>
<line x1="390.70" y1="181.82" x2="393.20" y2="181.82" stroke="#222" stroke-width="1" />
<text x="389.90" y="184.12" font-size="6.6" text-anchor="end" font-weight="normal" font-style="normal" fill="#222" stroke="#222" stroke-width="0.25" >80</text>
<line x1="390.70" y1="197.24" x2="393.20" y2="197.24" stroke="#222" stroke-width="1" />
<text x="389.90" y="199.54" font-size="6.6" text-anchor="end" font-weight="normal" font-style="normal" fill="#222" stroke="#222" stroke-width="0.25" >60</text>
<line x1="390.70" y1="212.66" x2="393.20" y2="212.66" stroke="#222" stroke-width="1" />
<text x="389.90" y="214.96" font-size="6.6" text-anchor="end" font-weight="normal" font-style="normal" fill="#222" stroke="#222" stroke-width="0.25" >40</text>
<line x1="390.70" y1="228.08" x2="393.20" y2="228.08" stroke="#222" stroke-width="1" />
<text x="389.90" y="230.38" font-size="6.6" text-anchor="end" font-weight="normal" font-style="normal" fill="#222" stroke="#222" stroke-width="0.25" >20</text>
<line x1="390.70" y1="243.50" x2="393.20" y2="243.50" stroke="#222" stroke-width="1" />
<text x="389.90" y="245.80" font-size="6.6" text-anchor="end" font-weight="normal" font-style="normal" fill="#222" stroke="#222" stroke-width="0.25" >0</text>
<line x1="412.70" y1="243.50" x2="412.70" y2="245.70" stroke="#222" stroke-width="0.9" />
<line x1="451.70" y1="243.50" x2="451.70" y2="245.70" stroke="#222" stroke-width="0.9" />
<line x1="496.40" y1="243.50" x2="496.40" y2="245.70" stroke="#222" stroke-width="0.9" />
<text x="413.00" y="252.6" font-size="7.3" text-anchor="middle" fill="#111" stroke="#111" stroke-width="0.25">WT</text>
<text x="450.50" y="252.6" font-size="7.3" text-anchor="middle" fill="#111" stroke="#111" stroke-width="0.25">NKC<tspan font-size="5" dy="-2.8">KD</tspan></text>
<text x="495.00" y="252.6" font-size="7.3" text-anchor="middle" fill="#111" stroke="#111" stroke-width="0.25">NKC<tspan font-size="5" dy="-2.8">KD</tspan><tspan dy="2.8">-Ly49i</tspan><tspan font-size="5" dy="-2.8">tg</tspan></text>
<line x1="411.70" y1="160.90" x2="491.20" y2="160.90" stroke="#444" stroke-width="1.4" />
<text x="450.80" y="162.20" font-size="7" text-anchor="middle" font-weight="normal" font-style="normal" fill="#222" stroke="#222" stroke-width="0.15" letter-spacing="0.3">*</text>
<line x1="451.20" y1="170.50" x2="491.20" y2="170.50" stroke="#444" stroke-width="1.4" />
<text x="471.90" y="171.50" font-size="7" text-anchor="middle" font-weight="normal" font-style="normal" fill="#222" stroke="#222" stroke-width="0.15" letter-spacing="0.3">***</text>
<line x1="411.30" y1="180.70" x2="450.80" y2="180.70" stroke="#444" stroke-width="1.4" />
<text x="430.60" y="181.60" font-size="7" text-anchor="middle" font-weight="normal" font-style="normal" fill="#222" stroke="#222" stroke-width="0.15" letter-spacing="0.3">***</text>
<line x1="399.00" y1="192.40" x2="426.00" y2="192.40" stroke="#333" stroke-width="1.2" />
<circle cx="408.00" cy="185.60" r="1.75" fill="#000"/>
<circle cx="413.00" cy="189.00" r="1.75" fill="#000"/>
<circle cx="417.70" cy="187.60" r="1.75" fill="#000"/>
<circle cx="403.00" cy="192.00" r="1.75" fill="#000"/>
<circle cx="408.20" cy="193.40" r="1.75" fill="#000"/>
<circle cx="413.00" cy="193.70" r="1.75" fill="#000"/>
<circle cx="417.70" cy="193.00" r="1.75" fill="#000"/>
<circle cx="422.00" cy="191.00" r="1.75" fill="#000"/>
<circle cx="412.40" cy="200.70" r="1.75" fill="#000"/>
<circle cx="417.70" cy="200.50" r="1.75" fill="#000"/>
<line x1="439.10" y1="231.10" x2="465.20" y2="231.10" stroke="#333" stroke-width="1.2" />
<circle cx="446.70" cy="214.50" r="1.55" fill="#fff" stroke="#000" stroke-width="1.1"/>
<circle cx="451.10" cy="217.10" r="1.55" fill="#fff" stroke="#000" stroke-width="1.1"/>
<circle cx="451.10" cy="224.50" r="1.55" fill="#fff" stroke="#000" stroke-width="1.1"/>
<circle cx="456.10" cy="224.10" r="1.55" fill="#fff" stroke="#000" stroke-width="1.1"/>
<circle cx="456.10" cy="229.70" r="1.55" fill="#fff" stroke="#000" stroke-width="1.1"/>
<circle cx="446.70" cy="232.10" r="1.55" fill="#fff" stroke="#000" stroke-width="1.1"/>
<circle cx="451.10" cy="232.50" r="1.55" fill="#fff" stroke="#000" stroke-width="1.1"/>
<circle cx="446.70" cy="242.20" r="1.55" fill="#fff" stroke="#000" stroke-width="1.1"/>
<circle cx="451.10" cy="242.20" r="1.55" fill="#fff" stroke="#000" stroke-width="1.1"/>
<circle cx="456.10" cy="242.20" r="1.55" fill="#fff" stroke="#000" stroke-width="1.1"/>
<circle cx="460.50" cy="239.70" r="1.55" fill="#fff" stroke="#000" stroke-width="1.1"/>
<line x1="476.90" y1="204.50" x2="503.30" y2="204.50" stroke="#333" stroke-width="1.2" />
<circle cx="485.40" cy="176.70" r="1.75" fill="#000"/>
<circle cx="490.00" cy="177.20" r="1.75" fill="#000"/>
<circle cx="490.10" cy="187.20" r="1.75" fill="#000"/>
<circle cx="480.70" cy="200.40" r="1.75" fill="#000"/>
<circle cx="485.00" cy="203.20" r="1.75" fill="#000"/>
<circle cx="490.10" cy="204.70" r="1.75" fill="#000"/>
<circle cx="494.40" cy="202.80" r="1.75" fill="#000"/>
<circle cx="485.00" cy="206.60" r="1.75" fill="#000"/>
<circle cx="494.40" cy="207.00" r="1.75" fill="#000"/>
<circle cx="490.10" cy="210.70" r="1.75" fill="#000"/>
<circle cx="485.00" cy="223.00" r="1.75" fill="#000"/>
<circle cx="490.10" cy="223.00" r="1.75" fill="#000"/>
<circle cx="490.10" cy="236.80" r="1.75" fill="#000"/>
<text x="1.40" y="278.20" font-size="14.5" text-anchor="start" font-weight="bold" font-style="normal" fill="#000" stroke="#000" stroke-width="0.25" >G</text>
<text x="100.3" y="286.4" font-size="9.6" text-anchor="middle" font-style="italic" fill="#111" stroke="#111" stroke-width="0.25">B2m<tspan font-size="5.5" dy="-4.5" font-style="normal">-/-</tspan></text>
<text x="0" y="0" font-size="7.4" text-anchor="middle" fill="#111" stroke="#111" stroke-width="0.25" transform="translate(18.3,330) rotate(-90)">% Cytotoxicity</text>
<line x1="37.20" y1="290.00" x2="37.20" y2="375.10" stroke="#222" stroke-width="1.2" />
<line x1="36.70" y1="374.60" x2="163.40" y2="374.60" stroke="#222" stroke-width="1.2" />
<line x1="34.70" y1="290.20" x2="37.20" y2="290.20" stroke="#222" stroke-width="1" />
<text x="33.90" y="292.80" font-size="7.6" text-anchor="end" font-weight="normal" font-style="normal" fill="#222" stroke="#222" stroke-width="0.25" >80</text>
<line x1="34.70" y1="311.30" x2="37.20" y2="311.30" stroke="#222" stroke-width="1" />
<text x="33.90" y="313.90" font-size="7.6" text-anchor="end" font-weight="normal" font-style="normal" fill="#222" stroke="#222" stroke-width="0.25" >60</text>
<line x1="34.70" y1="332.40" x2="37.20" y2="332.40" stroke="#222" stroke-width="1" />
<text x="33.90" y="335.00" font-size="7.6" text-anchor="end" font-weight="normal" font-style="normal" fill="#222" stroke="#222" stroke-width="0.25" >40</text>
<line x1="34.70" y1="353.50" x2="37.20" y2="353.50" stroke="#222" stroke-width="1" />
<text x="33.90" y="356.10" font-size="7.6" text-anchor="end" font-weight="normal" font-style="normal" fill="#222" stroke="#222" stroke-width="0.25" >20</text>
<line x1="34.70" y1="374.60" x2="37.20" y2="374.60" stroke="#222" stroke-width="1" />
<text x="33.90" y="377.20" font-size="7.6" text-anchor="end" font-weight="normal" font-style="normal" fill="#222" stroke="#222" stroke-width="0.25" >0</text>
<line x1="50.00" y1="374.60" x2="50.00" y2="376.90" stroke="#222" stroke-width="1" />
<text x="50.00" y="385.80" font-size="7.5" text-anchor="middle" font-weight="normal" font-style="normal" fill="#222" stroke="#222" stroke-width="0.25" >6</text>
<line x1="62.60" y1="374.60" x2="62.60" y2="376.90" stroke="#222" stroke-width="1" />
<text x="62.60" y="385.80" font-size="7.5" text-anchor="middle" font-weight="normal" font-style="normal" fill="#222" stroke="#222" stroke-width="0.25" >12</text>
<line x1="89.80" y1="374.60" x2="89.80" y2="376.90" stroke="#222" stroke-width="1" />
<text x="89.80" y="385.80" font-size="7.5" text-anchor="middle" font-weight="normal" font-style="normal" fill="#222" stroke="#222" stroke-width="0.25" >25</text>
<line x1="142.60" y1="374.60" x2="142.60" y2="376.90" stroke="#222" stroke-width="1" />
<text x="142.60" y="385.80" font-size="7.5" text-anchor="middle" font-weight="normal" font-style="normal" fill="#222" stroke="#222" stroke-width="0.25" >50</text>
<text x="100.50" y="395.40" font-size="7.6" text-anchor="middle" font-weight="normal" font-style="normal" fill="#222" stroke="#222" stroke-width="0.25" >E:T ratios</text>
<polyline points="50.00,355.00 62.60,351.30 89.80,349.30 142.60,340.70" fill="none" stroke="#000" stroke-width="1.6" stroke-dasharray="1.5,1.5"/>
<polyline points="50.00,326.70 62.60,326.00 89.80,319.80 142.60,314.50" fill="none" stroke="#000" stroke-width="1.6" stroke-dasharray="3.2,1.6"/>
<polyline points="50.00,332.90 62.60,321.40 89.80,320.20 142.60,321.20" fill="none" stroke="#000" stroke-width="1.6" />
<line x1="50.00" y1="326.80" x2="50.00" y2="339.40" stroke="#000" stroke-width="1.1" />
<line x1="47.70" y1="326.80" x2="52.30" y2="326.80" stroke="#000" stroke-width="1.1" />
<line x1="47.70" y1="339.40" x2="52.30" y2="339.40" stroke="#000" stroke-width="1.1" />
<line x1="50.00" y1="347.90" x2="50.00" y2="361.80" stroke="#000" stroke-width="1.1" />
<line x1="47.70" y1="347.90" x2="52.30" y2="347.90" stroke="#000" stroke-width="1.1" />
<line x1="47.70" y1="361.80" x2="52.30" y2="361.80" stroke="#000" stroke-width="1.1" />
<line x1="62.60" y1="344.40" x2="62.60" y2="358.20" stroke="#000" stroke-width="1.1" />
<line x1="60.30" y1="344.40" x2="64.90" y2="344.40" stroke="#000" stroke-width="1.1" />
<line x1="60.30" y1="358.20" x2="64.90" y2="358.20" stroke="#000" stroke-width="1.1" />
<line x1="89.80" y1="315.30" x2="89.80" y2="325.60" stroke="#000" stroke-width="1.1" />
<line x1="87.50" y1="315.30" x2="92.10" y2="315.30" stroke="#000" stroke-width="1.1" />
<line x1="87.50" y1="325.60" x2="92.10" y2="325.60" stroke="#000" stroke-width="1.1" />
<line x1="89.80" y1="346.30" x2="89.80" y2="351.80" stroke="#000" stroke-width="1.1" />
<line x1="87.80" y1="346.30" x2="91.80" y2="346.30" stroke="#000" stroke-width="1.1" />
<line x1="87.80" y1="351.80" x2="91.80" y2="351.80" stroke="#000" stroke-width="1.1" />
<line x1="142.60" y1="311.30" x2="142.60" y2="326.50" stroke="#000" stroke-width="1.1" />
<line x1="140.30" y1="311.30" x2="144.90" y2="311.30" stroke="#000" stroke-width="1.1" />
<line x1="140.30" y1="326.50" x2="144.90" y2="326.50" stroke="#000" stroke-width="1.1" />
<line x1="140.30" y1="317.90" x2="144.90" y2="317.90" stroke="#000" stroke-width="1.1" />
<line x1="142.60" y1="333.80" x2="142.60" y2="348.00" stroke="#000" stroke-width="1.1" />
<line x1="140.30" y1="333.80" x2="144.90" y2="333.80" stroke="#000" stroke-width="1.1" />
<line x1="140.30" y1="348.00" x2="144.90" y2="348.00" stroke="#000" stroke-width="1.1" />
<line x1="62.60" y1="323.80" x2="62.60" y2="328.00" stroke="#000" stroke-width="1.1" />
<line x1="60.80" y1="323.80" x2="64.40" y2="323.80" stroke="#000" stroke-width="1.1" />
<line x1="60.80" y1="328.00" x2="64.40" y2="328.00" stroke="#000" stroke-width="1.1" />
<circle cx="50.00" cy="332.90" r="2.1" fill="#000"/>
<circle cx="62.60" cy="321.40" r="2.1" fill="#000"/>
<circle cx="89.80" cy="320.20" r="2.1" fill="#000"/>
<circle cx="142.60" cy="321.20" r="2.1" fill="#000"/>
<rect x="48.10" y="324.80" width="3.8" height="3.8" fill="#000"/>
<rect x="60.70" y="324.10" width="3.8" height="3.8" fill="#000"/>
<rect x="87.90" y="317.90" width="3.8" height="3.8" fill="#000"/>
<rect x="140.70" y="312.60" width="3.8" height="3.8" fill="#000"/>
<circle cx="50.00" cy="355.00" r="2.1" fill="#fff" stroke="#000" stroke-width="1.2"/>
<circle cx="62.60" cy="351.30" r="2.1" fill="#fff" stroke="#000" stroke-width="1.2"/>
<circle cx="89.80" cy="349.30" r="2.1" fill="#fff" stroke="#000" stroke-width="1.2"/>
<circle cx="142.60" cy="340.70" r="2.1" fill="#fff" stroke="#000" stroke-width="1.2"/>
<line x1="158.50" y1="311.00" x2="170.80" y2="311.00" stroke="#000" stroke-width="1.7" />
<circle cx="164.70" cy="311.00" r="2.2" fill="#000"/>
<text x="173.00" y="313.60" font-size="7.6" text-anchor="start" font-weight="normal" font-style="normal" fill="#111" stroke="#111" stroke-width="0.25" >WT</text>
<line x1="158.50" y1="320.80" x2="170.80" y2="320.80" stroke="#000" stroke-width="1.7" stroke-dasharray="1.5,1.5"/>
<circle cx="164.2" cy="320.8" r="2.1" fill="#fff" stroke="#000" stroke-width="1.3"/>
<text x="173" y="324.0" font-size="7.6" fill="#111" stroke="#111" stroke-width="0.25">NKC<tspan font-size="5.6" dy="-3.0" letter-spacing="0.6">KD</tspan></text>
<line x1="158.50" y1="330.60" x2="170.80" y2="330.60" stroke="#000" stroke-width="1.7" stroke-dasharray="3.2,1.6"/>
<rect x="162.6" y="328.6" width="4" height="4" fill="#000"/>
<text x="173" y="334.0" font-size="7.6" fill="#111" stroke="#111" stroke-width="0.25">NKC<tspan font-size="5.6" dy="-3.0" letter-spacing="0.6">KD</tspan><tspan dy="3.0" dx="0.4">-Ly49i</tspan><tspan font-size="5.6" dy="-3.0" dx="0.6" letter-spacing="0.4">tg</tspan></text>
</svg></body></html>
